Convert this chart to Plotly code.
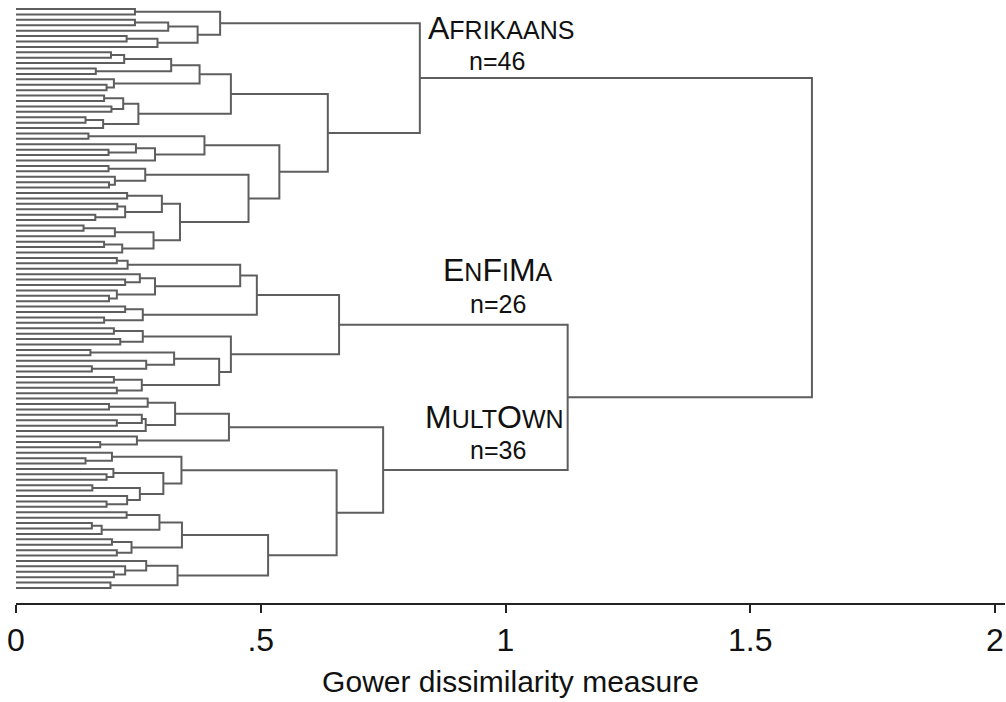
import plotly.graph_objects as go

# ---- data: merge heights (Gower dissimilarity). Node = [height, left, right]; 0 = one leaf ----
afrikaans_tree = [0.825,
    [0.417, [0.243, 0, 0], [0.371, [0.311, [0.243, 0, 0], 0], [0.289, [0.226, 0, 0], 0]]],
    [0.637,
        [0.439,
            [0.375, [0.317, [0.221, [0.194, 0, 0], 0], [0.163, 0, 0]], [0.200, 0, [0.185, 0, 0]]],
            [0.250, [0.219, [0.180, 0, 0], [0.195, 0, 0]], [0.178, [0.142, 0, 0], 0]]],
        [0.538,
            [0.385, [0.148, 0, 0], [0.284, [0.245, 0, [0.189, 0, 0]], 0]],
            [0.475,
                [0.264, [0.189, 0, 0], [0.202, 0, [0.190, 0, 0]]],
                [0.335,
                    [0.298, [0.227, 0, 0], [0.223, [0.207, 0, 0], [0.162, 0, 0]]],
                    [0.281, [0.202, [0.138, 0, 0], 0], [0.217, [0.180, 0, 0], 0]]]]]]]

enfima_tree = [0.660,
    [0.492,
        [0.458, [0.228, [0.206, 0, 0], 0], [0.284, [0.253, 0, [0.223, 0, 0]], [0.206, 0, [0.190, 0, 0]]]],
        [0.259, [0.223, 0, 0], [0.180, 0, 0]]],
    [0.439,
        [0.259, [0.200, 0, 0], [0.213, 0, 0]],
        [0.415, [0.323, [0.152, 0, 0], [0.266, 0, [0.155, 0, 0]]], [0.257, [0.200, 0, 0], [0.206, 0, 0]]]]]

multown_tree = [0.750,
    [0.435,
        [0.325, [0.269, 0, [0.190, 0, 0]], [0.265, [0.257, 0, [0.206, 0, 0]], 0]],
        [0.247, 0, [0.172, 0, 0]]],
    [0.655,
        [0.338, [0.196, 0, [0.142, 0, 0]],
            [0.301, [0.199, 0, [0.185, 0, 0]], [0.253, [0.156, 0, 0], [0.227, 0, [0.185, 0, 0]]]]],
        [0.515,
            [0.339, [0.293, [0.226, 0, 0], [0.175, [0.155, 0, 0], 0]], [0.236, [0.196, 0, 0], [0.206, 0, 0]]],
            [0.330, [0.266, 0, [0.223, 0, [0.200, 0, 0]]], [0.193, 0, 0]]]]]

enfima_multown_height = 1.127
root_height = 1.626

cluster_sizes = [46, 26, 36]
SC = "<span style='font-size:25px'>{}</span>"
cluster_labels = ["A" + SC.format("FRIKAANS"),
                  "E" + SC.format("N") + "F" + SC.format("I") + "M" + SC.format("A"),
                  "M" + SC.format("ULT") + "O" + SC.format("WN")]
x_ticks = [0, 0.5, 1, 1.5, 2]
x_tick_labels = ["0", ".5", "1", "1.5", "2"]
x_title = "Gower dissimilarity measure"

# ---- build segments ----
xs, ys = [], []
leaf_counter = [0]


def place(node):
    if node == 0:
        y = leaf_counter[0]
        leaf_counter[0] += 1
        return 0.0, float(y)
    h, a, b = node
    ha, ya = place(a)
    hb, yb = place(b)
    xs.extend([ha, h, h, hb, None])
    ys.extend([ya, ya, yb, yb, None])
    return h, (ya + yb) / 2


root = [root_height, afrikaans_tree, [enfima_multown_height, enfima_tree, multown_tree]]
place(root)

fig = go.Figure()
fig.add_trace(go.Scatter(x=xs, y=ys, mode="lines",
                         line=dict(color="#5e5e5e", width=2),
                         hoverinfo="skip", showlegend=False))

FONT = "Liberation Sans, Arial, sans-serif"
label_pos = [(0.991, 3.5, 0.983, 9.6), (0.985, 48.2, 0.985, 54.5), (0.977, 75.4, 0.985, 81.5)]
for i, (lab, n, (lx, ly, nx, ny)) in enumerate(zip(cluster_labels, cluster_sizes, label_pos)):
    fig.add_annotation(x=lx, y=ly, xref="x", yref="y", text=lab, showarrow=False,
                       font=dict(family=FONT, size=32, color="#111111"),
                       bgcolor="white" if i == 2 else "rgba(0,0,0,0)", borderpad=0)
    fig.add_annotation(x=nx, y=ny, xref="x", yref="y", text=f"n={n}", showarrow=False,
                       font=dict(family=FONT, size=25, color="#111111"))

fig.update_layout(
    width=1006, height=702,
    margin=dict(l=16, r=1, t=4, b=99, autoexpand=False),
    paper_bgcolor="white", plot_bgcolor="white",
    font=dict(family=FONT, color="#111111"),
    xaxis=dict(range=[0, 2.0204], tickvals=x_ticks, ticktext=x_tick_labels,
               ticks="outside", ticklen=8, tickwidth=1.5, tickcolor="#222222",
               showline=True, linecolor="#222222", linewidth=1.5,
               showgrid=False, zeroline=False, automargin=False,
               ticklabelstandoff=0,
               tickfont=dict(size=32, family=FONT, color="#111111"),
               title=dict(text=x_title, font=dict(size=30, family=FONT, color="#111111"), standoff=14)),
    yaxis=dict(range=[109.77, -0.924], visible=False, showgrid=False, zeroline=False),
)

fig.write_html("out.html", config={"displayModeBar": False},
               post_script="document.body.style.margin='0px';document.body.style.overflow='hidden';")
